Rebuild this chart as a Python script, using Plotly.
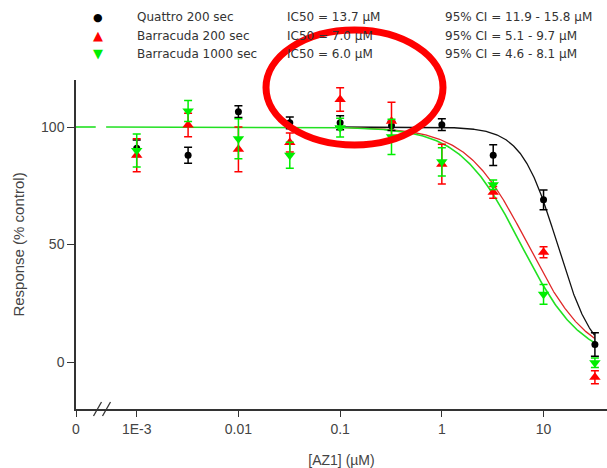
import numpy as np
import plotly.graph_objects as go

# ---- data ----
conc = [0.001, 0.0032, 0.01, 0.032, 0.1, 0.32, 1, 3.2, 10, 32]
series_names = ["Quattro 200 sec", "Barracuda 200 sec", "Barracuda 1000 sec"]
quattro_200 = [91, 88, 106.5, 101.8, 101.8, 100.5, 101, 88, 69, 7.5]
quattro_200_err = [3.5, 3.4, 2.5, 2.5, 3, 2, 2.5, 4.4, 4.2, 5]
barracuda_200 = [88, 100.8, 90.5, 93.4, 111.7, 102.5, 84.2, 72.2, 46.7, -6.5]
barracuda_200_err = [7, 5, 9.5, 4, 5, 8, 8.5, 2.5, 2.3, 2.8]
barracuda_1000 = [90, 106.8, 95, 88, 99.7, 95.8, 85.2, 75.4, 28.8, -0.3]
barracuda_1000_err = [7, 4.5, 8.5, 5.5, 4, 7.5, 6, 2, 4.2, 2]
ic50 = [13.7, 7.0, 6.0]
hill_slope = [2.45, 1.45, 1.45]
ic50_text = ["IC50 = 13.7 µM", "IC50 = 7.0 µM", "IC50 = 6.0 µM"]
ci_text = ["95% CI = 11.9 - 15.8 µM", "95% CI = 5.1 - 9.7 µM", "95% CI = 4.6 - 8.1 µM"]
x_tick_labels = ["0", "1E-3", "0.01", "0.1", "1", "10"]
y_tick_vals = [0, 50, 100]

# ---- layout geometry (pixels) ----
W, H = 607, 468
L, R, T, B = 76, 0, 80, 59
XLOG_MIN, XLOG_MAX = -3.597, 1.624
ZERO_POS = 10 ** XLOG_MIN
BREAK_LO, BREAK_HI = -3.394, -3.302
CURVE_START = [-1.05, -0.95, XLOG_MIN]   # where each drawn curve becomes visible
CURVE_END = 1.5


def px(xp):
    return (xp - L) / (W - L - R)


def py(yp):
    return (H - B - yp) / (H - B - T)


colors_marker = ["#000000", "#ff0000", "#00ee00"]
colors_line = ["#111111", "#e02828", "#22e022"]
line_widths = [1.3, 1.3, 1.6]
symbols = ["circle", "triangle-up", "triangle-down"]
sizes = [7, 10, 10]
values = [quattro_200, barracuda_200, barracuda_1000]
errors = [quattro_200_err, barracuda_200_err, barracuda_1000_err]

fig = go.Figure()

# fitted curves
for i in range(3):
    lx = np.linspace(CURVE_START[i], CURVE_END, 500)
    xs, ys = [], []
    for v in lx:
        if BREAK_LO < v < BREAK_HI:
            xs.append(None)
            ys.append(None)
            continue
        c = 10 ** v
        xs.append(c)
        ys.append(100.0 / (1.0 + (c / ic50[i]) ** hill_slope[i]))
    fig.add_trace(go.Scatter(x=xs, y=ys, mode="lines", showlegend=False,
                             line=dict(color=colors_line[i], width=line_widths[i]),
                             hoverinfo="skip"))

# data points
for i in range(3):
    fig.add_trace(go.Scatter(
        x=conc, y=values[i], mode="markers", name=series_names[i], showlegend=False,
        marker=dict(color=colors_marker[i], symbol=symbols[i], size=sizes[i]),
        error_y=dict(type="data", array=errors[i], color=colors_marker[i],
                     thickness=1.5, width=4),
        cliponaxis=False))

font_tick = dict(family="Liberation Sans, Arial, sans-serif", size=14, color="#444444")

fig.update_xaxes(type="log", range=[XLOG_MIN, XLOG_MAX],
                 tickvals=[ZERO_POS, 0.001, 0.01, 0.1, 1, 10], ticktext=x_tick_labels,
                 ticks="outside", ticklen=6, tickwidth=1.3, tickcolor="#333333",
                 showline=True, linecolor="#333333", linewidth=1.5,
                 showgrid=False, zeroline=False, tickfont=font_tick,
                 title=dict(text="[AZ1] (µM)", font=dict(family="Liberation Sans, Arial, sans-serif",
                                                        size=14, color="#444444"), standoff=20))
fig.update_yaxes(range=[-20, 120], tickvals=y_tick_vals,
                 ticks="outside", ticklen=7, tickwidth=1.3, tickcolor="#333333",
                 showline=True, linecolor="#333333", linewidth=1.5,
                 showgrid=False, zeroline=False, tickfont=font_tick,
                 title=dict(text="Response (% control)",
                            font=dict(family="Liberation Sans, Arial, sans-serif", size=15, color="#444444"),
                            standoff=13))

annotations = []
row_y = [17, 35.5, 53.5]
glyphs = ["●", "▲", "▼"]
glyph_sizes = [11, 13, 13]
leg_font = dict(family="DejaVu Sans, sans-serif", size=12, color="#333333")
for i in range(3):
    annotations.append(dict(x=px(98), y=py(row_y[i]), xref="paper", yref="paper",
                            text=glyphs[i], showarrow=False, xanchor="center", yanchor="middle",
                            font=dict(size=glyph_sizes[i], color=colors_marker[i], family="DejaVu Sans")))
    for xp, txt in [(135, series_names[i]), (285, ic50_text[i]), (443, ci_text[i])]:
        annotations.append(dict(x=px(xp), y=py(row_y[i]), xref="paper", yref="paper",
                                text=txt, showarrow=False, xanchor="left", yanchor="middle",
                                font=leg_font))

shapes = [
    # axis break marks
    dict(type="line", xref="paper", yref="paper", x0=px(93.5), y0=py(416), x1=px(101.5), y1=py(402),
         line=dict(color="#333333", width=1.3)),
    dict(type="line", xref="paper", yref="paper", x0=px(102.5), y0=py(416), x1=px(110.5), y1=py(402),
         line=dict(color="#333333", width=1.3)),
    # red highlight ellipse
    dict(type="circle", xref="paper", yref="paper", x0=px(266), x1=px(443), y0=py(145), y1=py(30),
         line=dict(color="#ff0000", width=7), layer="above"),
]

fig.update_layout(width=W, height=H, margin=dict(l=L, r=R, t=T, b=B),
                  plot_bgcolor="white", paper_bgcolor="white",
                  annotations=annotations, shapes=shapes, showlegend=False)

fig.write_html("out.html")
